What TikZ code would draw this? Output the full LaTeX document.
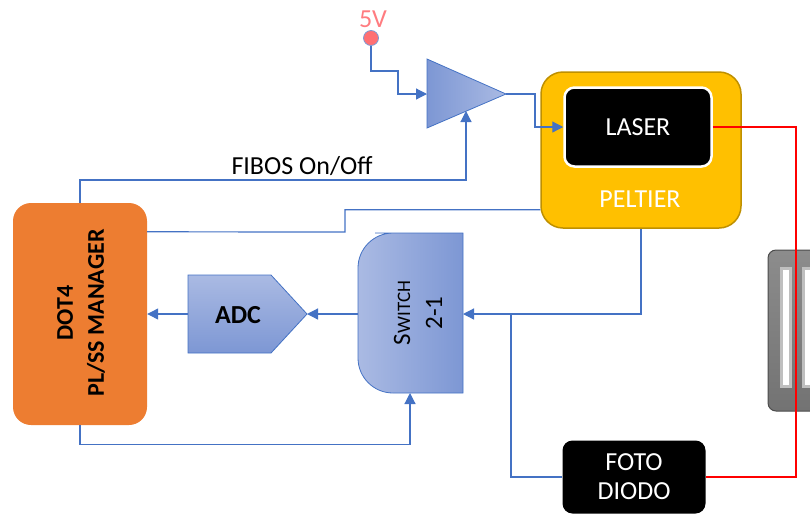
\documentclass[tikz,border=0pt]{standalone}
\usepackage{fontspec}
\setmainfont{Carlito}
\usetikzlibrary{arrows.meta,calc}

\definecolor{wireblue}{HTML}{4472C4}
\definecolor{blklight}{HTML}{AABAE3}
\definecolor{blkdark}{HTML}{7D97D4}
\definecolor{dotorange}{HTML}{ED7D31}
\definecolor{peltfill}{HTML}{FFC000}
\definecolor{peltedge}{HTML}{BF9000}
\definecolor{vcccol}{HTML}{FF7C80}

\begin{document}
\begin{tikzpicture}[x=1pt,y=-1pt,
    wire/.style={draw=wireblue,line width=1.2pt},
    arr/.style={wire,-{Triangle[length=11pt,width=11pt]}},
    beam/.style={draw=red,line width=2pt},
    lbl/.style={font=\fontsize{26}{31}\selectfont},
    blk/.style={fill=black,rounded corners=10pt,text=white,lbl,align=center,inner sep=0pt},
    part/.style={draw=wireblue,line width=0.8pt}]
  \useasboundingbox (0,0) rectangle (810,515);

  % supply and amplifier
  \node[text=vcccol,lbl] (vcctxt) at (373,19) {5V};
  \node[circle,fill=vcccol!90!red,draw=wireblue!70,line width=0.8pt,minimum size=15pt,inner sep=0pt] (vcc) at (371,38) {};
  \coordinate (ampin) at (427,94);
  \coordinate (amptip) at (506,94);
  \coordinate (ampbot) at (466,111);
  \shadedraw[part,left color=blkdark,right color=blklight] (427,59) -- (amptip) -- (427,128) -- cycle;

  % peltier with laser
  \node[fill=peltfill,draw=peltedge,line width=1.5pt,rounded corners=22pt,minimum width=200pt,minimum height=156pt] (peltier) at (641,150) {};
  \node[text=white,lbl] (pelttxt) at (640,199) {PELTIER};
  \node[blk,draw=white,line width=2.5pt,minimum width=147pt,minimum height=79pt] (laser) at (638,127) {LASER};

  % detector
  \node[blk,minimum width=143pt,minimum height=73pt] (foto) at (634,477) {FOTO\\[-2pt]DIODO};

  % fibre holder (cut at the edge)
  \begin{scope}
    \clip (0,0) rectangle (810,515);
    \shadedraw[top color=black!45,bottom color=black!55,draw=black!70,line width=1pt,rounded corners=8pt] (768,250) rectangle (840,411);
    \fill[white,draw=black!25,line width=3pt] (781,268) rectangle (790,386);
    \fill[white,draw=black!25,line width=3pt] (803,268) rectangle (830,386);
  \end{scope}

  % manager
  \node[fill=dotorange,rounded corners=18pt,minimum width=134pt,minimum height=222pt] (dot) at (80,314) {};
  \node[rotate=90,align=center,font=\fontsize{24}{31}\selectfont\bfseries] (dottxt) at (81,313) {DOT4\\PL/SS MANAGER};

  % adc
  \coordinate (adctip) at (307,314);
  \coordinate (adcin) at (188,314);
  \shadedraw[part,top color=blklight,bottom color=blkdark] (188,275) -- (271,275) -- (adctip) -- (271,353) -- (188,353) -- cycle;
  \node[font=\fontsize{26}{31}\selectfont\bfseries] (adc) at (238,315) {ADC};

  % switch
  \coordinate (swout) at (358,314);
  \coordinate (swin) at (463,314);
  \coordinate (swbot) at (410,393);
  \shadedraw[part,left color=blklight,right color=blkdark] (410,393) [rounded corners=35pt] -- (358,393) -- (358,233) -- (410,233) [sharp corners] -- (463,233) -- (463,393) -- cycle;
  \node[rotate=90,align=center,font=\fontsize{25}{32}\selectfont] (swtxt) at (418,313) {S{\fontsize{19}{32}\selectfont WITCH}\\2-1};

  % connectors
  \draw[arr] (vcc) |- (398,71) |- (ampin);
  \draw[arr] (dot.north) |- (466,180) -- (ampbot);
  \node[lbl] (fibos) at (302,166) {FIBOS On/Off};
  \draw[arr] (amptip) -- ++(29,0) |- (laser.west);
  \draw[wire] ($(dot.north east)+(0,29)$) -- (345,232) |- ($(peltier.south west)+(0,-19)$);
  \draw[arr] (peltier.south) |- (swin);
  \draw[wire] (foto.west) -| (511,314);
  \draw[arr] (swout) -- (adctip);
  \draw[arr] (adcin) -- (dot.east);
  \draw[arr] (dot.south) -- ++(0,19) -| (swbot);
  \coordinate (bend) at (796,300);
  \draw[beam] (laser.east) -| (bend) |- (foto.east);
\end{tikzpicture}
\end{document}
